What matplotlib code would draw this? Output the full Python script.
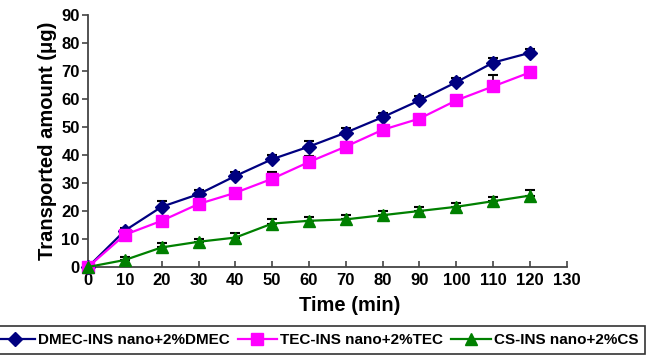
import numpy as np
import matplotlib
matplotlib.use('Agg')
import matplotlib.pyplot as plt

plt.rcParams['font.family'] = ['Liberation Sans', 'DejaVu Sans']
plt.rcParams['font.weight'] = 'bold'

time_min = [0, 10, 20, 30, 40, 50, 60, 70, 80, 90, 100, 110, 120]

dmec = [0, 13, 21.5, 26, 32.5, 38.5, 43, 48, 53.5, 59.5, 66, 73, 76.5]
dmec_err = [0, 1, 2, 1.5, 1.5, 1.5, 2, 1.5, 1.5, 1.5, 1.5, 1.5, 1.5]

tec = [0, 11.5, 16.5, 22.5, 26.5, 31.5, 37.5, 43, 49, 53, 59.5, 64.5, 69.5]
tec_err = [0, 1, 1, 1, 0.5, 2.5, 2, 1, 1, 1, 1, 4, 1]

cs = [0, 2.5, 7, 9, 10.5, 15.5, 16.5, 17, 18.5, 20, 21.5, 23.5, 25.5]
cs_err = [0, 1, 1.5, 1, 1.5, 1.5, 1.5, 1.5, 1.5, 1.5, 1.5, 1.5, 2]

labels = ['DMEC-INS nano+2%DMEC', 'TEC-INS nano+2%TEC', 'CS-INS nano+2%CS']

fig = plt.figure(figsize=(6.53, 3.63), dpi=100)
ax = fig.add_axes([0.1348, 0.2645, 0.868 - 0.1348, 0.9587 - 0.2645])

series = [
    (dmec, dmec_err, '#000080', 'D', 7.5),
    (tec, tec_err, '#FF00FF', 's', 8),
    (cs, cs_err, '#008000', '^', 8.5),
]
handles = []
for (vals, err, col, mk, ms), lab in zip(series, labels):
    ax.errorbar(time_min, vals, yerr=[np.zeros(len(err)), err], fmt='none',
                ecolor='black', elinewidth=1.2, capsize=3.5, capthick=1.5, zorder=2)
    h, = ax.plot(time_min, vals, color=col, marker=mk, markersize=ms,
                 linewidth=1.6, label=lab, zorder=3)
    handles.append(h)

ax.set_xlim(0, 130)
ax.set_ylim(0, 90)
ax.set_xticks(range(0, 131, 10))
ax.set_yticks(range(0, 91, 10))
for s in ['top', 'right']:
    ax.spines[s].set_visible(False)
for s in ['left', 'bottom']:
    ax.spines[s].set_color('#444444')
    ax.spines[s].set_linewidth(1.3)
ax.tick_params(axis='x', direction='in', length=4, width=1.2, color='#444444',
               labelsize=12, pad=4)
ax.tick_params(axis='y', direction='out', length=4, width=1.2, color='#444444',
               labelsize=12, pad=2)
for t in ax.get_xticklabels() + ax.get_yticklabels():
    t.set_fontweight('bold')
for art in ax.get_children():
    art.set_clip_on(False)

ax.set_xlabel('Time (min)', fontsize=14.5, fontweight='bold')
ax.xaxis.set_label_coords(0.547, -0.115)
ax.set_ylabel('Transported amount (μg)', fontsize=14.5, fontweight='bold', labelpad=3)

leg = fig.legend(handles=handles, loc='center right', bbox_to_anchor=(0.988, 0.063), ncol=3,
                 frameon=True, fancybox=False, edgecolor='black',
                 handlelength=2.6, columnspacing=0.5, handletextpad=0.2,
                 borderpad=0.45, borderaxespad=0,
                 prop={'weight': 'bold', 'size': 11})
leg.get_frame().set_linewidth(1.2)

fig.savefig('out.png', dpi=100)
